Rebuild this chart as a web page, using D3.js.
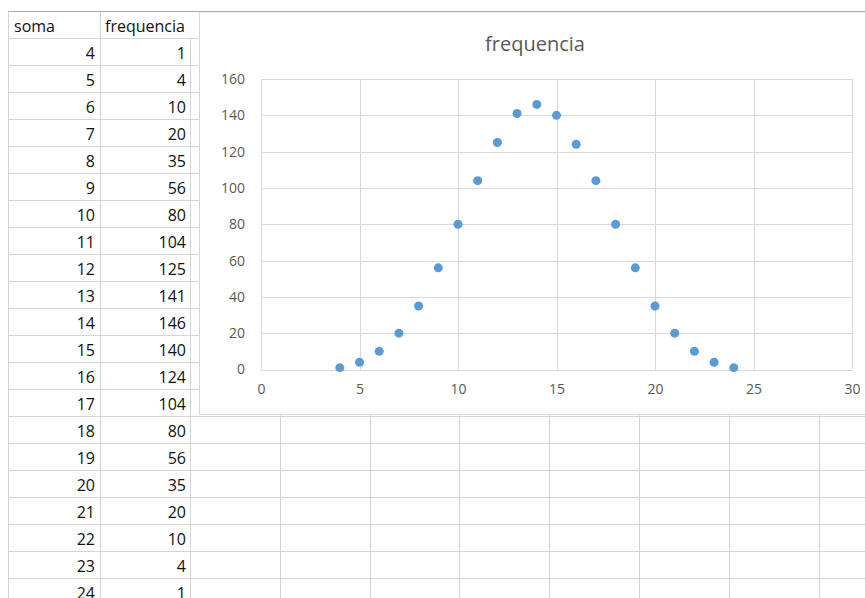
<!DOCTYPE html>
<html><head><meta charset="utf-8">
<script src="https://cdn.jsdelivr.net/npm/d3@7"></script>
<style>html,body{margin:0;padding:0;background:#fff;overflow:hidden}</style>
</head><body>
<svg id="c" width="865" height="598"></svg>
<script>
const soma = [4,5,6,7,8,9,10,11,12,13,14,15,16,17,18,19,20,21,22,23,24];
const frequencia = [1,4,10,20,35,56,80,104,125,141,146,140,124,104,80,56,35,20,10,4,1];
const headers = ["soma","frequencia"];
const title = "frequencia";
const xTicks = [0,5,10,15,20,25,30];
const yTicks = [0,20,40,60,80,100,120,140,160];

const svg = d3.select("#c");
const grid = "#d4d4d4";
const tableFont = "'Open Sans', 'Noto Sans', sans-serif";
const chartFont = "'Open Sans', 'Noto Sans', sans-serif";

// spreadsheet grid
const rowTop = 11.5, headerBottom = 38, rowH = 27;
const colX = [8.5, 100.5, 190.5];
const extraCols = [280.5, 370.5, 459.5, 549.5, 639.5, 729.5, 819.5];
const nRows = soma.length;
const rowLines = d3.range(nRows + 1).map(i => headerBottom + i * rowH + 0.5);

svg.append("g").selectAll("line").data(rowLines).join("line")
  .attr("x1", colX[0]).attr("x2", 865).attr("y1", d => d).attr("y2", d => d)
  .attr("stroke", grid).attr("stroke-width", 1);
svg.append("line").attr("x1", colX[0]).attr("x2", colX[0]).attr("y1", rowTop).attr("y2", 598).attr("stroke", grid);
svg.append("line").attr("x1", colX[1]).attr("x2", colX[1]).attr("y1", rowTop).attr("y2", 598).attr("stroke", grid);
svg.append("line").attr("x1", colX[2]).attr("x2", colX[2]).attr("y1", headerBottom).attr("y2", 598).attr("stroke", grid);
svg.append("g").selectAll("line").data(extraCols).join("line")
  .attr("x1", d => d).attr("x2", d => d).attr("y1", 414).attr("y2", 598).attr("stroke", grid);

// table text
const tg = svg.append("g").attr("font-family", tableFont).attr("font-size", 16).attr("fill", "#111");
tg.append("text").attr("x", 14).attr("y", 32).text(headers[0]);
tg.append("text").attr("x", 105).attr("y", 32).text(headers[1]);
soma.forEach((s, i) => {
  const yb = headerBottom + i * rowH + 21;
  tg.append("text").attr("x", 95).attr("y", yb).attr("text-anchor", "end").text(s);
  tg.append("text").attr("x", 186).attr("y", yb).attr("text-anchor", "end").text(frequencia[i]);
});

// chart area
const chart = svg.append("g");
chart.append("rect").attr("x", 199.5).attr("y", 12).attr("width", 680).attr("height", 402.5)
  .attr("fill", "#fff").attr("stroke", "#d9d9d9");
svg.append("line").attr("x1", colX[0]).attr("x2", 865).attr("y1", rowTop).attr("y2", rowTop).attr("stroke", "#ababab");

const x = d3.scaleLinear().domain([0, 30]).range([261, 852]);
const y = d3.scaleLinear().domain([0, 160]).range([369.5, 79]);

chart.append("g").selectAll("line").data(yTicks).join("line")
  .attr("x1", x(0)).attr("x2", x(30)).attr("y1", d => Math.round(y(d)) + 0.5).attr("y2", d => Math.round(y(d)) + 0.5)
  .attr("stroke", "#d9d9d9");
chart.append("g").selectAll("line").data(xTicks).join("line")
  .attr("y1", y(0)).attr("y2", y(160)).attr("x1", d => Math.round(x(d)) + 0.5).attr("x2", d => Math.round(x(d)) + 0.5)
  .attr("stroke", "#d9d9d9");

const xAxis = chart.append("g").attr("transform", `translate(0,${y(0)})`)
  .call(d3.axisBottom(x).tickValues(xTicks).tickSize(0).tickPadding(15));
const yAxis = chart.append("g").attr("transform", `translate(${x(0)},0)`)
  .call(d3.axisLeft(y).tickValues(yTicks).tickSize(0).tickPadding(16));
[xAxis, yAxis].forEach(a => {
  a.select(".domain").remove();
  a.selectAll("text").attr("fill", "#595959").attr("font-size", 14).attr("font-family", chartFont);
});

chart.append("text").attr("x", 535).attr("y", 50.5).attr("text-anchor", "middle")
  .attr("font-family", chartFont).attr("font-size", 20).attr("fill", "#595959").text(title);

chart.append("g").selectAll("circle").data(soma).join("circle")
  .attr("cx", d => x(d)).attr("cy", (d, i) => y(frequencia[i])).attr("r", 4.5)
  .attr("fill", "#5b9bd5");
</script>
</body></html>
